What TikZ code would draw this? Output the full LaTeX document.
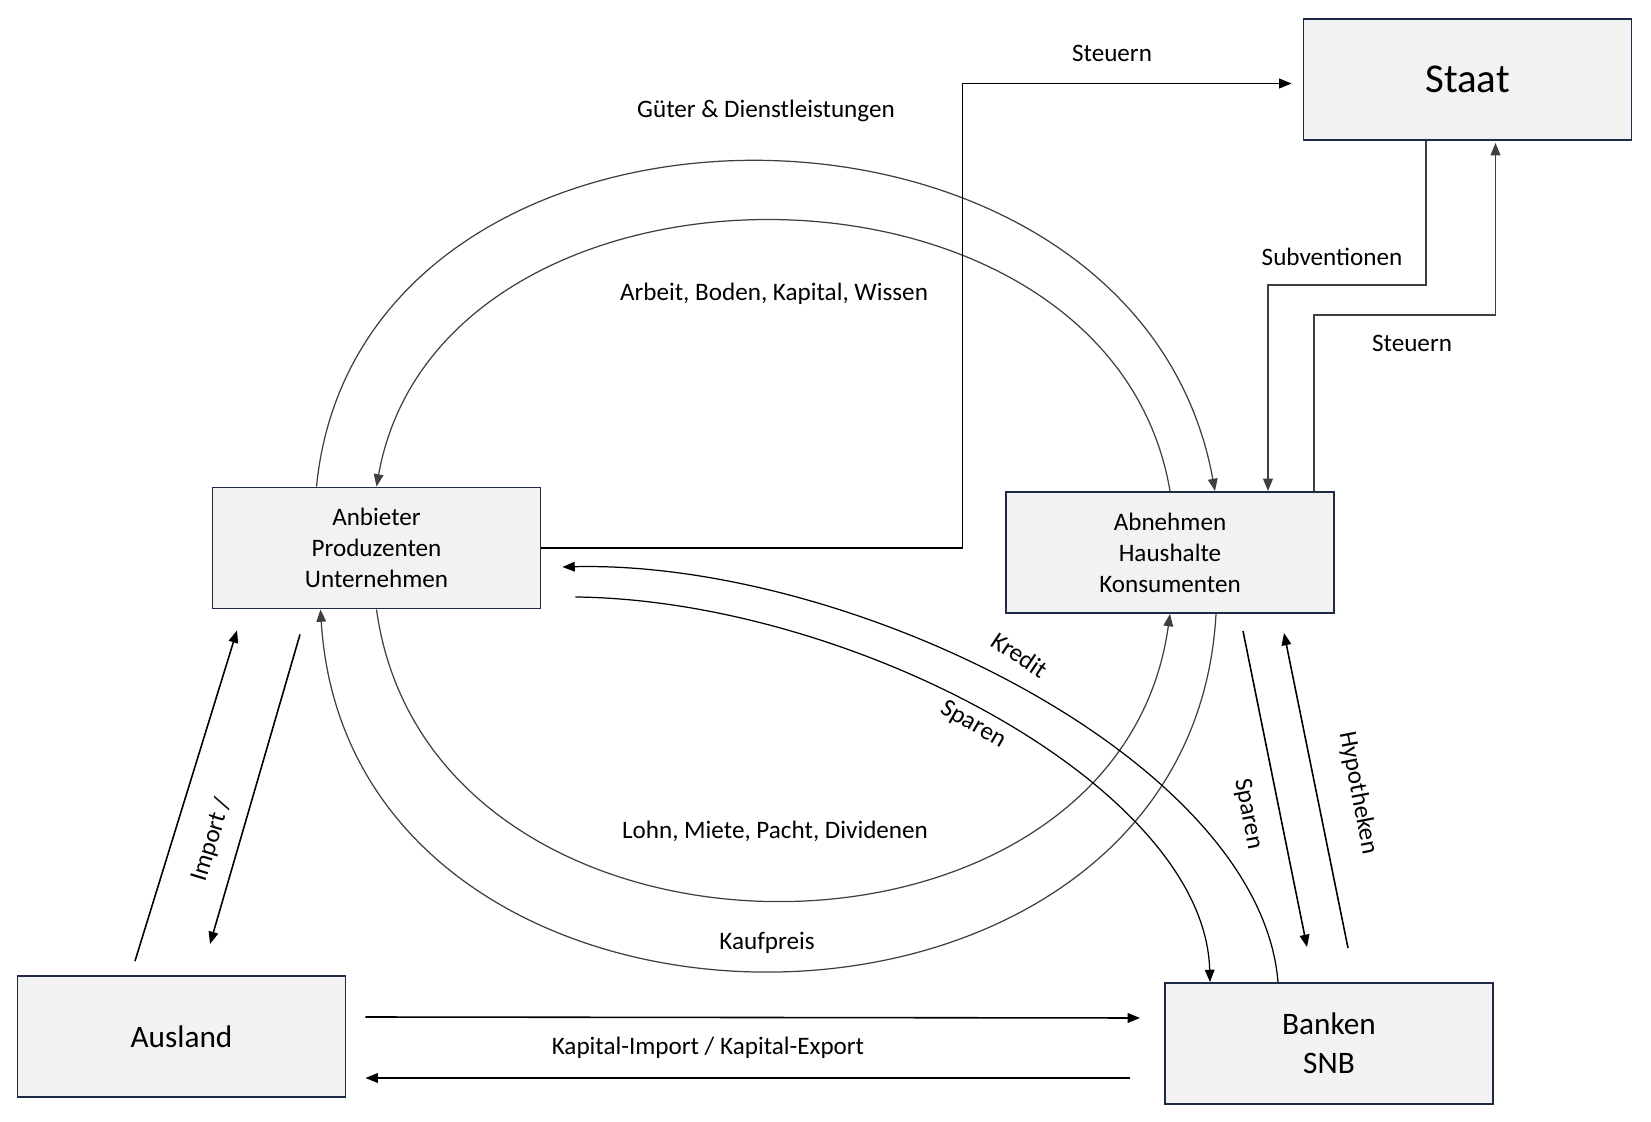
\documentclass[tikz,border=0pt]{standalone}
\usepackage{fontspec}
\setmainfont{Carlito}
\usetikzlibrary{arrows.meta, calc}
\definecolor{boxFill}{HTML}{F2F2F2}
\definecolor{boxLine}{HTML}{1F2A44}
\definecolor{arcGray}{HTML}{3F3F3F}

\tikzset{
  sector/.style={draw=boxLine, fill=boxFill, line width=1.1pt, minimum width=65.6mm,
    minimum height=24.2mm, align=center, inner sep=0pt},
  flow/.style={-{Triangle[length=7pt,width=5.5pt]}, line width=0.9pt},
  thinflow/.style={-{Triangle[length=7pt,width=5.5pt]}, line width=0.7pt},
  cyc/.style={-{Triangle[length=7pt,width=5.5pt]}, line width=0.7pt, arcGray}
}

\begin{document}
\begin{tikzpicture}[x=0.2mm, y=-0.2mm, every node/.style={font=\fontsize{14.3}{17.6}\selectfont}]
  \useasboundingbox (0,0) rectangle (1651,1122);
  % Sektoren
  \node[sector, font=\fontsize{23.3}{28}\selectfont] (staat) at (1467.5,79.5) {\raisebox{-1.5pt}{Staat}};
  \node[sector] (anb) at (376.5,548) {Anbieter\\Produzenten\\Unternehmen};
  \node[sector] (abn) at (1170,552.5) {Abnehmen\\Haushalte\\Konsumenten};
  \node[sector, font=\fontsize{17.8}{22.2}\selectfont] (aus) at (181.5,1036.5) {Ausland};
  \node[sector, font=\fontsize{17.8}{22.2}\selectfont] (bank) at (1329,1043.5) {Banken\\SNB};

  % Wirtschaftskreislauf
  \draw[cyc] ($(anb.north)+(-60,0)$) .. controls +(43,-434) and +(-80,-438) .. ($(abn.north)+(45,0)$);
  \draw[cyc] (abn.north) .. controls +(-61,-359) and +(63.5,-355) .. (anb.north);
  \draw[cyc] (anb.south) .. controls +(53.5,387) and +(-53,382) .. (abn.south);
  \draw[cyc] ($(abn.south)+(46,0)$) .. controls +(-26,476) and +(29.5,481) .. ($(anb.south)+(-56,0)$);

  % Banken
  \draw[thinflow] ($(bank.north)+(-51,0)$) .. controls +(-18,-222) and +(289,-7) .. ($(anb.east)+(21,19)$);
  \draw[thinflow] ($(anb.east)+(34,49)$) .. controls +(276,3) and +(-5,-195) .. ($(bank.north)+(-119,0)$);
  \draw[flow] ($(abn.south)+(73,17)$) -- ($(bank.north)+(-22,-35)$);
  \draw[flow] ($(bank.north)+(19,-34)$) -- ($(abn.south)+(114,19)$);

  % Staat
  \draw[flow] (anb.east) -- ++(421,0) |- ($(staat.west)+(-11,4)$);
  \draw[flow, arcGray] ($(staat.south)+(-41.5,0)$) -- ++(0,144) -| ($(abn.north)+(98,0)$);
  \draw[flow, arcGray] ($(abn.north)+(144,0)$) -- ++(0,-176) -| ($(staat.south)+(28,2)$);

  % Ausland
  \draw[flow] ($(aus.north)+(-46.5,-14)$) -- ($(anb.south)+(-139.5,21)$);
  \draw[flow] ($(anb.south)+(-76.5,25)$) -- ($(aus.north)+(28.5,-31)$);
  \draw[flow] ($(aus.east)+(19,-19.5)$) -- ($(bank.west)+(-24,-25.5)$);
  \draw[flow] ($(bank.west)+(-34,34.5)$) -- ($(aus.east)+(19,41.5)$);

  % Beschriftungen
  \node (tSteuernU) at (1112,53) {Steuern};
  \node (tGueter) at (766,111) {Güter \& Dienstleistungen};
  \node (tSubv) at (1332,257) {Subventionen};
  \node (tSteuernH) at (1412,343) {Steuern};
  \node (tArbeit) at (774,294) {Arbeit, Boden, Kapital, Wissen};
  \node[rotate=-34] (tKredit) at (1020,655) {Kredit};
  \node[rotate=-30] (tSparenA) at (973,725) {Sparen};
  \node[rotate=-79] (tSparenB) at (1248,814) {Sparen};
  \node[rotate=-79] (tHypo) at (1358,793) {Hypotheken};
  \node[rotate=73] (tImport) at (212,840) {Import /};
  \node (tLohn) at (775,831) {Lohn, Miete, Pacht, Dividenen};
  \node (tKauf) at (767,943) {Kaufpreis};
  \node (tKapital) at (708,1048) {Kapital-Import / Kapital-Export};
\end{tikzpicture}
\end{document}
